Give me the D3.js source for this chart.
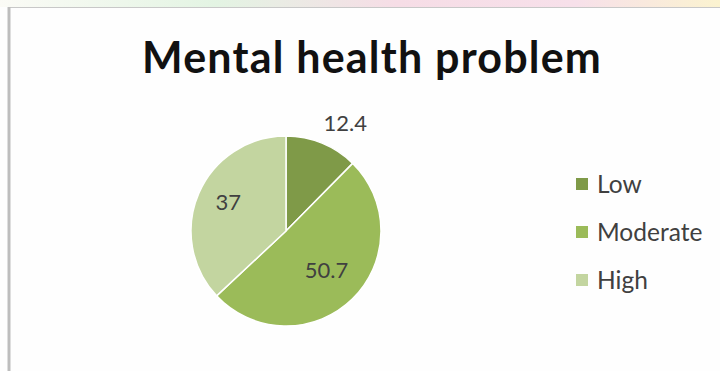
<!DOCTYPE html>
<html><head><meta charset="utf-8">
<script src="https://cdn.jsdelivr.net/npm/d3@7"></script>
<style>
html,body{margin:0;padding:0;background:#fff;}
svg{display:block;}
</style></head>
<body><svg id="c" width="720" height="371"></svg>
<script>
const title = "Mental health problem";
const categories = ["Low", "Moderate", "High"];
const values = [12.4, 50.7, 37];
const labels = ["12.4", "50.7", "37"];
const colors = ["#7f9a48", "#9bbb59", "#c3d5a0"];

const svg = d3.select("#c");
const W = 720, H = 371;
const font = "Lato, 'Open Sans', sans-serif";

// faint top strip
const grad = svg.append("defs").append("linearGradient").attr("id","g").attr("x1","0").attr("x2","1");
[["0%","#fbfbf6"],["30%","#e3f4e3"],["55%","#f6dde6"],["80%","#f7e0ea"],["100%","#fbf3d0"]].forEach(s=>grad.append("stop").attr("offset",s[0]).attr("stop-color",s[1]));
svg.append("rect").attr("x",0).attr("y",0).attr("width",W).attr("height",7).attr("fill","url(#g)");

// chart frame
svg.append("rect").attr("x",0).attr("y",7).attr("width",W).attr("height",H-7).attr("fill","#fefefe");
svg.append("line").attr("x1",8).attr("x2",W).attr("y1",7.5).attr("y2",7.5).attr("stroke","#c8c8c8").attr("stroke-width",1);
svg.append("line").attr("x1",9).attr("x2",9).attr("y1",7).attr("y2",H).attr("stroke","#bdbdbd").attr("stroke-width",3);

svg.append("text").attr("x",372).attr("y",73).attr("text-anchor","middle")
  .attr("font-family",font).attr("font-weight","bold").attr("font-size",43)
  .attr("letter-spacing",1.2).attr("fill","#111")
  .text(title);

const cx = 286, cy = 231, r = 95;
const pie = d3.pie().sort(null).value(d=>d)(values);
const arc = d3.arc().innerRadius(0).outerRadius(r);
const g = svg.append("g").attr("transform",`translate(${cx},${cy})`);
g.selectAll("path").data(pie).join("path")
  .attr("d",arc).attr("fill",(d,i)=>colors[i])
  .attr("stroke","#ffffff").attr("stroke-width",1.5);

const inArc = d3.arc().innerRadius(r*0.64).outerRadius(r*0.64);
const outArc = d3.arc().innerRadius(r*1.2).outerRadius(r*1.2);
g.selectAll("text.lbl").data(pie).join("text").attr("class","lbl")
  .attr("transform",(d,i)=>{
    const small = (d.endAngle-d.startAngle) < 1;
    const c = small ? outArc.centroid(d) : inArc.centroid(d);
    if (small) { c[0] += 16; c[1] -= 3; } else { c[0] -= 2; c[1] -= 5; }
    return `translate(${c[0]},${c[1]})`;
  })
  .attr("text-anchor","middle").attr("dominant-baseline","central")
  .attr("font-family",font).attr("font-size",22).attr("fill","#404040")
  .text((d,i)=>labels[i]);

const leg = svg.append("g").attr("transform","translate(576,0)");
const ly = d3.scalePoint().domain(categories).range([183,279]);
categories.forEach((c,i)=>{
  leg.append("rect").attr("x",0).attr("y",ly(c)-5).attr("width",12).attr("height",12).attr("fill",colors[i]);
  leg.append("text").attr("x",21).attr("y",ly(c)).attr("dominant-baseline","central")
    .attr("font-family",font).attr("font-size",24.5).attr("fill","#404040").text(c);
});
</script></body></html>
